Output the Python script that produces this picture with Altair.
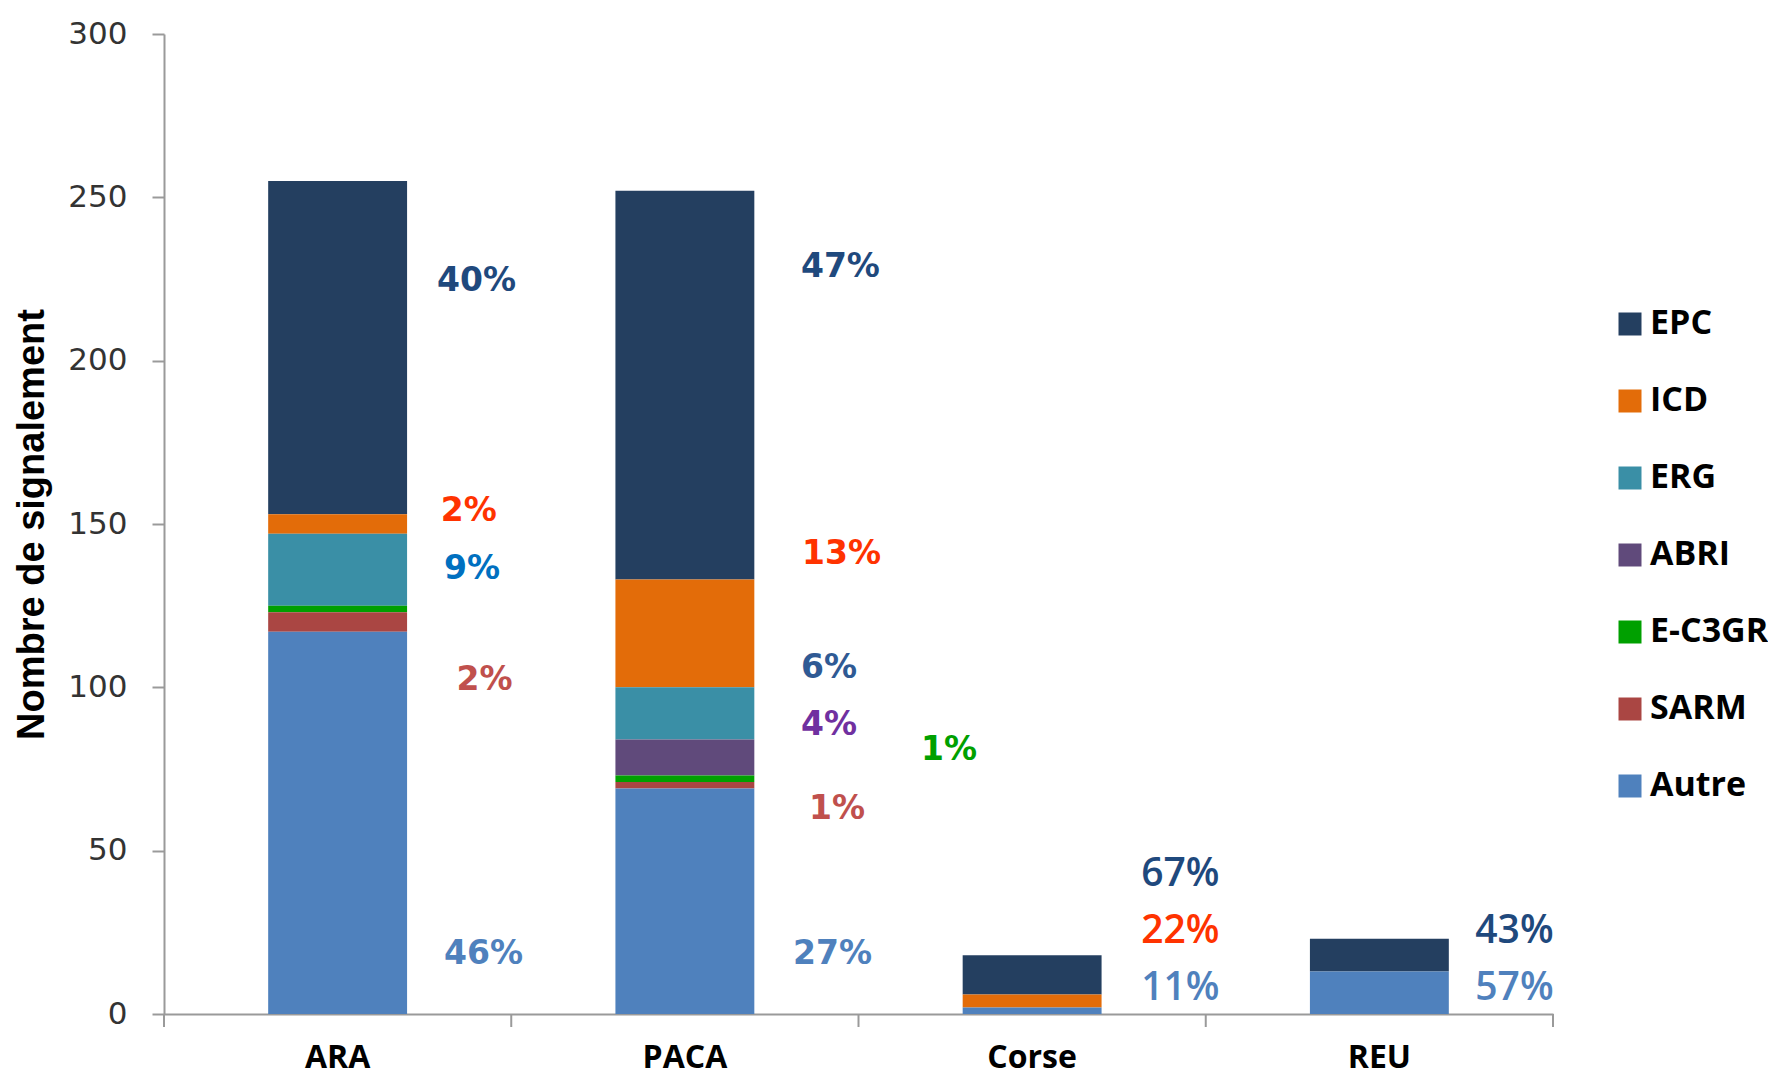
import altair as alt
import pandas as pd

regions = ["ARA", "PACA", "Corse", "REU"]
categories = ["EPC", "ICD", "ERG", "ABRI", "E-C3GR", "SARM", "Autre"]
cat_colors = ["#243F60", "#E36C09", "#3A8FA6", "#604A7B", "#00A000", "#AA4643", "#4F81BD"]

# counts per region (ARA, PACA, Corse, REU)
EPC = [102, 119, 12, 10]
ICD = [6, 33, 4, 0]
ERG = [22, 16, 0, 0]
ABRI = [0, 11, 0, 0]
EC3GR = [2, 2, 0, 0]
SARM = [6, 2, 0, 0]
Autre = [117, 69, 2, 13]
series = [EPC, ICD, ERG, ABRI, EC3GR, SARM, Autre]

y_ticks = [0, 50, 100, 150, 200, 250, 300]
boundaries = [0, 1, 2, 3, 4]

# percentage annotations (ARA / PACA) : text, x in category units, y value, colour
lab_text = ["40%", "2%", "9%", "2%", "46%", "47%", "13%", "6%", "4%", "1%", "27%", "1%"]
lab_x = [0.900, 0.878, 0.887, 0.923, 0.920, 1.948, 1.951, 1.915, 1.915, 1.938, 1.925, 2.261]
lab_y = [224.4, 154.0, 136.3, 102.3, 18.4, 228.6, 140.8, 105.8, 88.4, 62.8, 18.4, 80.8]
lab_col = ["#1F497D", "#FF3300", "#0070C0", "#C0504D", "#4F81BD",
           "#1F497D", "#FF3300", "#2F5A94", "#7030A0", "#C0504D", "#4F81BD", "#00A000"]

# percentage annotations (Corse / REU)
lab2_text = ["67%", "22%", "11%", "43%", "57%"]
lab2_x = [2.927, 2.927, 2.927, 3.889, 3.889]
lab2_y = [43.0, 25.3, 8.0, 25.3, 8.0]
lab2_col = ["#1F497D", "#FF3300", "#4F81BD", "#1F497D", "#4F81BD"]

rows = []
for ci, (cat, vals) in enumerate(zip(categories, series)):
    for r, v in zip(regions, vals):
        if v > 0:
            rows.append({"region": r, "cat": cat, "value": v, "ord": len(categories) - ci})
df = pd.DataFrame(rows)

W, H = 1389, 980
AXIS_GRAY = "#9A9A9A"

bars = alt.Chart(df).mark_bar().encode(
    x=alt.X("region:N", sort=regions,
            scale=alt.Scale(paddingInner=0.6, paddingOuter=0.3),
            axis=alt.Axis(title=None, labelAngle=0, ticks=False, tickSize=0,
                          labelPadding=28, labelFont="Open Sans", labelFontWeight="bold",
                          labelFontSize=32, labelColor="#000000",
                          domainColor=AXIS_GRAY, domainWidth=2)),
    y=alt.Y("value:Q", stack="zero", scale=alt.Scale(domain=[0, 300], nice=False),
            axis=alt.Axis(values=y_ticks, grid=False, title="Nombre de signalement",
                          titleFont="Liberation Sans", titleFontWeight="bold",
                          titleFontSize=38, titleColor="#000000", titleAngle=270,
                          titleX=-132, titleY=H / 2, titleAlign="center",
                          titleBaseline="middle",
                          labelFont="DejaVu Sans", labelFontSize=31, labelColor="#333333",
                          labelPadding=25, tickSize=12, tickColor=AXIS_GRAY, tickWidth=2,
                          domainColor=AXIS_GRAY, domainWidth=2)),
    color=alt.Color("cat:N", scale=alt.Scale(domain=categories, range=cat_colors),
                    legend=alt.Legend(title=None, orient="none", legendX=1449, legendY=273,
                                      symbolType="square", symbolSize=529,
                                      symbolStrokeWidth=0, labelFont="Open Sans",
                                      labelFontWeight="bold", labelFontSize=34,
                                      labelColor="#000000", labelOffset=3,
                                      rowPadding=43, padding=0)),
    order=alt.Order("ord:Q", sort="ascending"),
)

tick_rules = alt.Chart(pd.DataFrame({"b": boundaries})).mark_rule(
    color=AXIS_GRAY, strokeWidth=2
).encode(
    x=alt.X("b:Q", scale=alt.Scale(domain=[0, 4], nice=False), axis=None),
    y=alt.value(H), y2=alt.value(H + 13),
)

lab_df = pd.DataFrame({"t": lab_text, "lx": lab_x, "ly": lab_y, "c": lab_col})
labels1 = alt.Chart(lab_df).mark_text(
    font="DejaVu Sans", fontWeight="bold", fontSize=33, align="center", baseline="middle"
).encode(
    x=alt.X("lx:Q", scale=alt.Scale(domain=[0, 4], nice=False), axis=None),
    y=alt.Y("ly:Q", scale=alt.Scale(domain=[0, 300], nice=False), axis=None),
    text="t:N",
    color=alt.Color("c:N", scale=None, legend=None),
)

lab2_df = pd.DataFrame({"t": lab2_text, "lx": lab2_x, "ly": lab2_y, "c": lab2_col})
labels2 = alt.Chart(lab2_df).mark_text(
    font="Open Sans", fontWeight=600, fontSize=39, align="center", baseline="middle"
).encode(
    x=alt.X("lx:Q", scale=alt.Scale(domain=[0, 4], nice=False), axis=None),
    y=alt.Y("ly:Q", scale=alt.Scale(domain=[0, 300], nice=False), axis=None),
    text="t:N",
    color=alt.Color("c:N", scale=None, legend=None),
)

chart = alt.layer(bars, tick_rules, labels1, labels2).resolve_scale(
    x="independent", y="independent", color="independent"
).properties(
    width=W, height=H,
    autosize=alt.AutoSizeParams(type="none"),
    padding={"left": 156, "top": 26, "right": 215, "bottom": 65},
    background="#FFFFFF",
).configure_view(stroke=None)

chart.save("out.html", embed_options={"renderer": "svg", "actions": False})
